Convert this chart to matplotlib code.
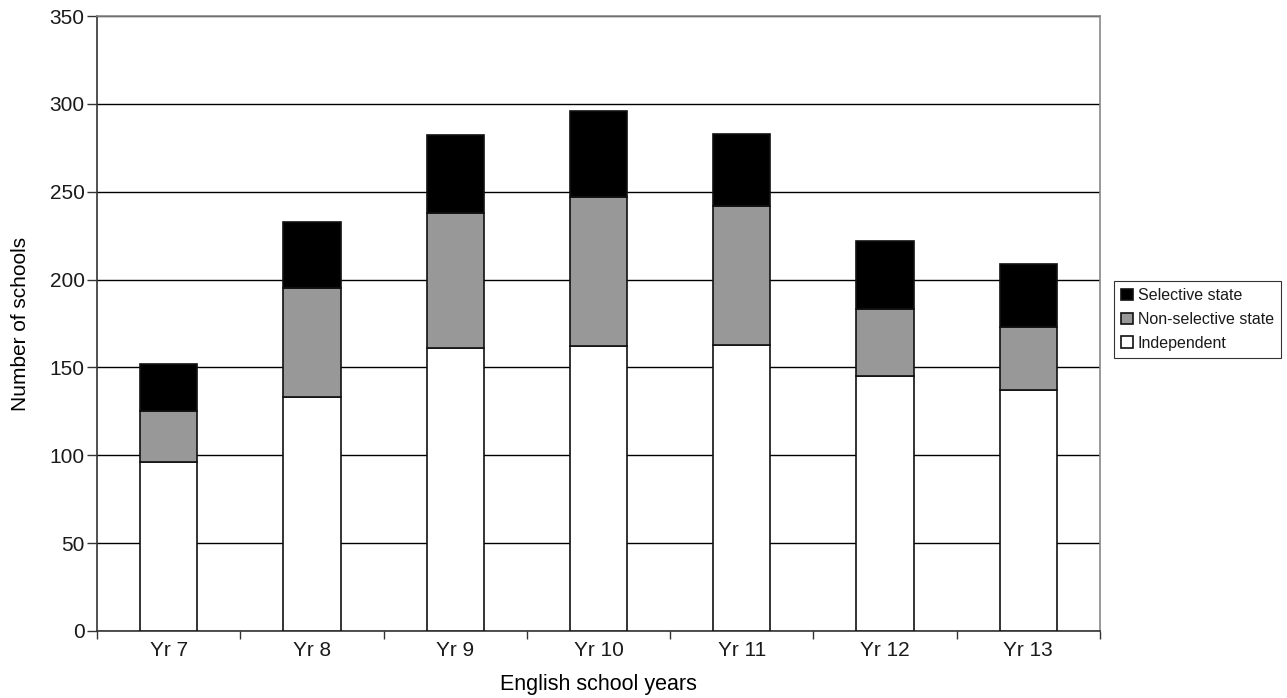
import matplotlib
matplotlib.use("Agg")
import matplotlib.pyplot as plt
import numpy as np

categories = ["Yr 7", "Yr 8", "Yr 9", "Yr 10", "Yr 11", "Yr 12", "Yr 13"]
independent = [96, 133, 161, 162, 163, 145, 137]
non_selective = [29, 62, 77, 85, 79, 38, 36]
selective = [27, 38, 44, 49, 41, 39, 36]

plt.rcParams['font.family'] = ['Liberation Sans', 'DejaVu Sans']
plt.rcParams['text.color'] = '#1a1a1a'
plt.rcParams['xtick.labelcolor'] = '#1a1a1a'
plt.rcParams['ytick.labelcolor'] = '#1a1a1a'

fig = plt.figure(figsize=(12.87, 6.98), dpi=100)
ax = fig.add_axes([97/1287, 1 - 631/698, (1100 - 97)/1287, (631 - 16)/698])

x = np.arange(len(categories))
w = 0.4
ind = np.array(independent)
ns = np.array(non_selective)
sel = np.array(selective)
b1 = ax.bar(x, ind, w, color='white', edgecolor='#111111', linewidth=1.2, zorder=3, label='Independent')
b2 = ax.bar(x, ns, w, bottom=ind, color='#989898', edgecolor='#111111', linewidth=1.2, zorder=3, label='Non-selective state')
b3 = ax.bar(x, sel, w, bottom=ind + ns, color='black', edgecolor='#111111', linewidth=1.2, zorder=3, label='Selective state')

ax.set_xlim(-0.5, len(categories) - 0.5)
ax.set_ylim(0, 350)
ax.set_yticks(np.arange(0, 351, 50))
ax.yaxis.grid(True, color='black', linewidth=1.0, zorder=0)
ax.set_axisbelow(True)

ax.set_xticks(x)
ax.set_xticklabels(categories, fontsize=15)
ax.tick_params(axis='x', which='major', length=0, pad=7)
ax.set_xticks(np.arange(-0.5, len(categories), 1.0), minor=True)
ax.tick_params(axis='x', which='minor', length=6, direction='out', width=1, color='#333333')
ax.tick_params(axis='y', length=7, direction='out', width=1, labelsize=15, color='#333333', pad=2)

for s in ['top', 'right']:
    ax.spines[s].set_color('#888888')
    ax.spines[s].set_linewidth(1.2)
for s in ['left', 'bottom']:
    ax.spines[s].set_color('#333333')
    ax.spines[s].set_linewidth(1.2)

ax.set_ylabel("Number of schools", fontsize=15, labelpad=14)
ax.set_xlabel("English school years", fontsize=15.5, labelpad=10)

handles = [b3, b2, b1]
labels = ['Selective state', 'Non-selective state', 'Independent']
leg = fig.legend(handles, labels, loc='upper left', bbox_to_anchor=(1114/1287, 1 - 281/698),
                 fontsize=11.5, frameon=True, fancybox=False, edgecolor='black',
                 handlelength=0.75, handleheight=0.75, handletextpad=0.3,
                 labelspacing=0.55, borderpad=0.45, borderaxespad=0)
leg.get_frame().set_linewidth(0.8)

fig.savefig("out.png", dpi=100)
